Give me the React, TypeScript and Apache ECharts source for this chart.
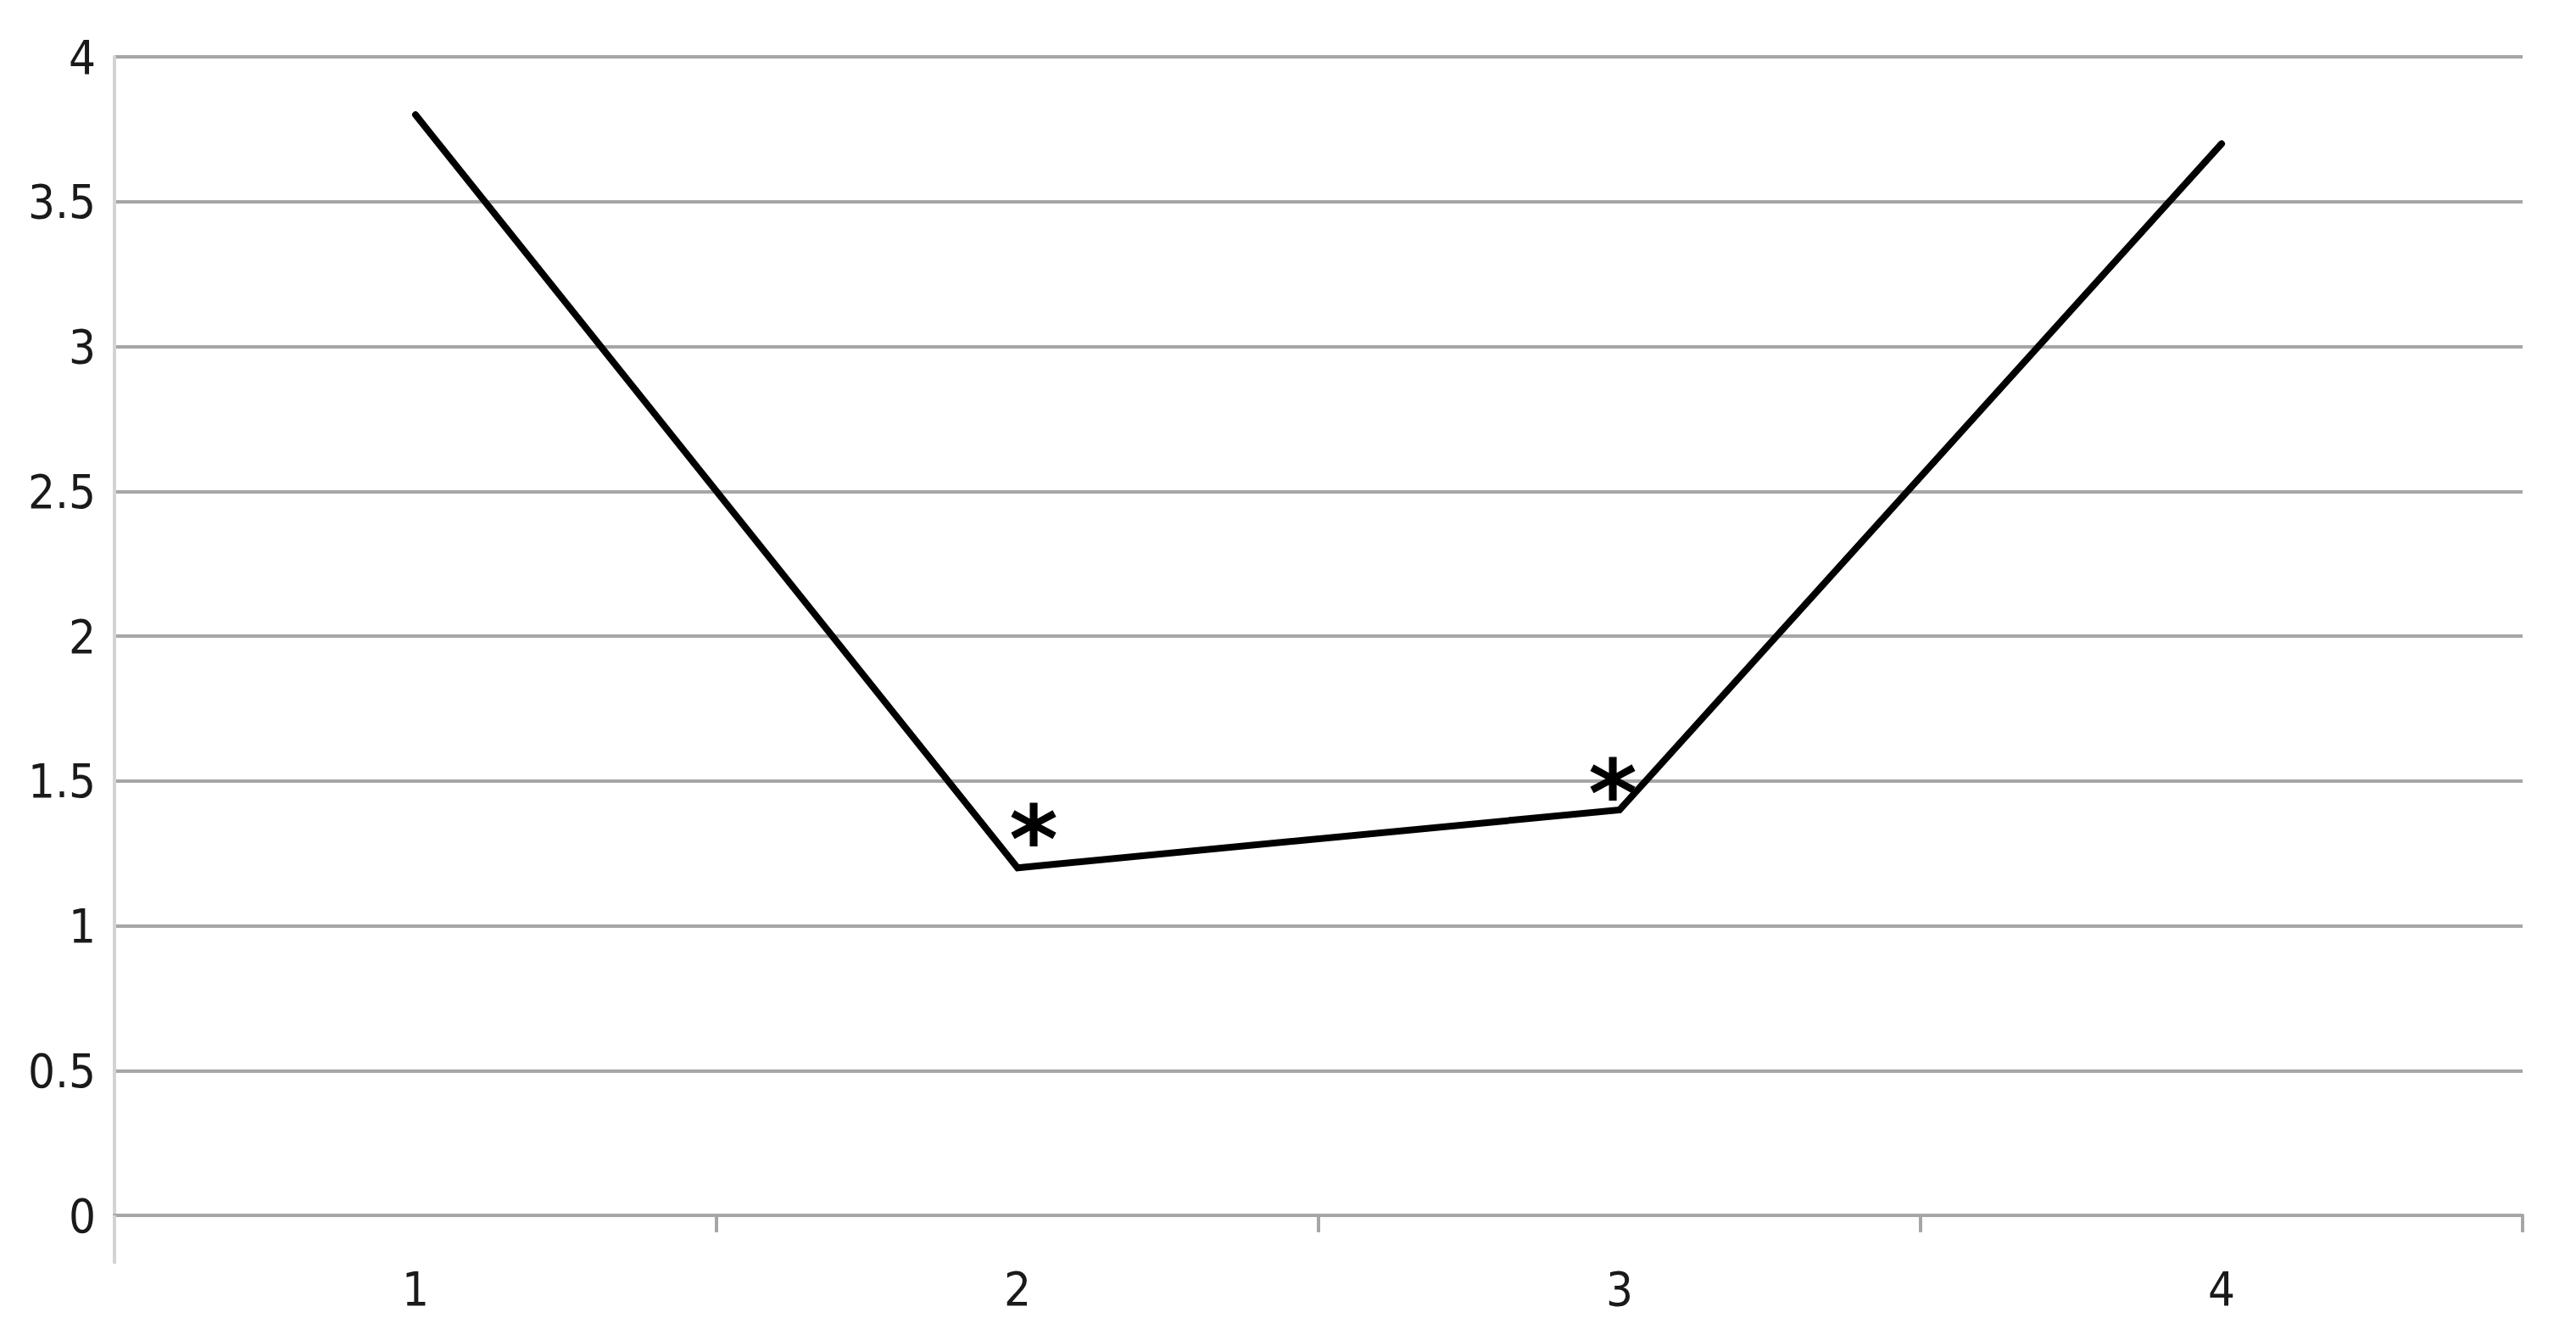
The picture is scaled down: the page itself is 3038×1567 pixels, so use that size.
import React, { useEffect, useRef } from "react";
import * as echarts from "echarts";

const categories = ["1", "2", "3", "4"];
const values = [3.8, 1.2, 1.4, 3.7];
const markers = ["", "*", "*", ""];
const markerOffsets: number[][] = [[0, 0], [19, -32], [-8, -18], [0, 0]];

export default function App() {
  const ref = useRef<HTMLDivElement>(null);
  useEffect(() => {
    if (!ref.current) return;
    const chart = echarts.init(ref.current, null, { renderer: "svg" });
    const data = values.map((v, i) =>
      markers[i]
        ? {
            value: v,
            label: {
              show: true,
              formatter: markers[i],
              position: "inside",
              offset: markerOffsets[i],
              fontSize: 110,
              fontWeight: "bold",
              fontFamily: "DejaVu Sans",
              color: "#000",
            },
          }
        : v
    );
    const labelFont = { fontSize: 56, fontFamily: "DejaVu Sans Condensed", color: "#1a1a1a" };
    chart.setOption({
      animation: false,
      backgroundColor: "#ffffff",
      grid: { left: 135, right: 63, top: 67, bottom: 134, containLabel: false },
      graphic: [
        {
          type: "line",
          shape: { x1: 135, y1: 1433, x2: 135, y2: 1490 },
          style: { stroke: "#d3d3d3", lineWidth: 4 },
          z: 10,
        },
      ],
      xAxis: {
        type: "category",
        data: categories,
        boundaryGap: true,
        axisLine: { show: true, lineStyle: { color: "#a6a6a6", width: 4 } },
        axisTick: { show: true, interval: 0, length: 20, lineStyle: { color: "#a6a6a6", width: 4 } },
        axisLabel: { ...labelFont, margin: 58 },
        splitLine: { show: false },
      },
      yAxis: {
        type: "value",
        min: 0,
        max: 4,
        interval: 0.5,
        axisLine: { show: true, lineStyle: { color: "#d3d3d3", width: 4 } },
        axisTick: { show: false },
        axisLabel: { ...labelFont, margin: 22 },
        splitLine: { show: true, lineStyle: { color: "#a6a6a6", width: 4 } },
      },
      series: [
        {
          type: "line",
          data,
          symbol: "circle",
          symbolSize: 1,
          showSymbol: true,
          itemStyle: { color: "rgba(0,0,0,0)" },
          lineStyle: { color: "#000", width: 8, cap: "round", join: "miter" },
          z: 5,
        },
      ],
    });
    return () => chart.dispose();
  }, []);
  return (
    <div
      ref={ref}
      style={{ position: "fixed", left: 0, top: 0, width: 3038, height: 1567, background: "#fff" }}
    />
  );
}
